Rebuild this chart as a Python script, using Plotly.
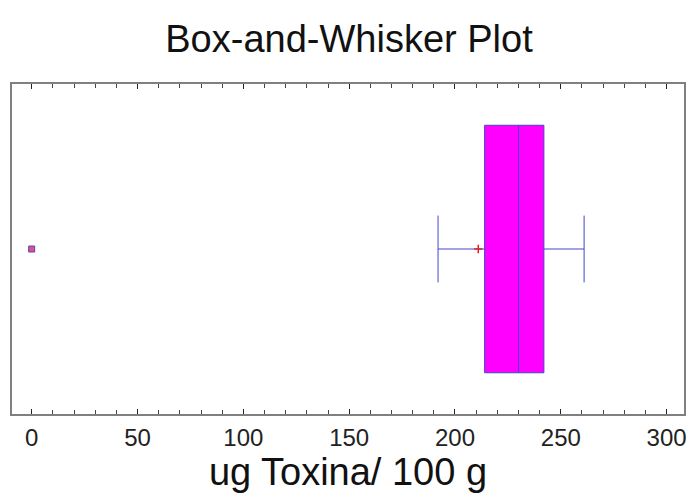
import plotly.graph_objects as go

# Summary statistics (ug Toxina / 100 g)
lower_whisker = [192]
q1 = [214]
median = [230]
q3 = [242]
upper_whisker = [261]
mean_value = [211]
outliers = [0]
box_position = [0.5]

tick_values = [0, 50, 100, 150, 200, 250, 300]
tick_labels = ["0", "50", "100", "150", "200", "250", "300"]

line_col = "#4444CC"

W, H = 689, 502

fig = go.Figure()
fig.add_trace(go.Box(
    orientation="h",
    y=box_position,
    q1=q1, median=median, q3=q3,
    lowerfence=lower_whisker, upperfence=upper_whisker,
    width=0.75,
    whiskerwidth=0.27,
    fillcolor="#FF00FF",
    line=dict(color=line_col, width=1),
    boxpoints=False,
    showlegend=False,
    hoverinfo="skip",
))
fig.add_trace(go.Scatter(
    x=mean_value, y=box_position, mode="markers",
    marker=dict(symbol="cross-thin", size=6, line=dict(color="#E02020", width=1.5)),
    showlegend=False, hoverinfo="skip",
))
fig.add_trace(go.Scatter(
    x=outliers, y=box_position * len(outliers), mode="markers",
    marker=dict(symbol="square", size=6, color="#E0508A", line=dict(color="#5048B0", width=1)),
    showlegend=False, hoverinfo="skip",
))

fig.update_layout(
    width=W, height=H,
    margin=dict(l=12, r=5, t=84, b=88, autoexpand=False),
    paper_bgcolor="white", plot_bgcolor="white",
    font=dict(family="Liberation Sans, Arial, sans-serif", color="#111111"),
    title=dict(text="Box-and-Whisker Plot", x=349/W, xanchor="center",
               y=1 - 39/H, yanchor="middle", yref="container",
               font=dict(size=38, color="#111111")),
    xaxis=dict(
        range=[-9.3, 308.2], automargin=False,
        tickvals=tick_values, ticktext=tick_labels,
        ticks="inside", ticklen=5, tickwidth=1, tickcolor="#222222",
        minor=dict(dtick=10, tick0=0, ticks="inside", ticklen=4, tickwidth=1, tickcolor="#444444"),
        showline=True, linecolor="#808080", linewidth=1.5, mirror="allticks",
        showgrid=False, zeroline=False,
        tickfont=dict(size=24, color="#222222"),
        ticklabelstandoff=1,
        title=dict(text="ug Toxina/ 100 g", font=dict(size=38, color="#111111"), standoff=7),
    ),
    yaxis=dict(
        range=[0, 1], showticklabels=False, ticks="", automargin=False,
        showline=True, linecolor="#808080", linewidth=1.5, mirror=True,
        showgrid=False, zeroline=False,
    ),
)

fig.write_html(
    "out.html",
    config={"displayModeBar": False},
    post_script="document.body.style.margin='0';document.body.style.overflow='hidden';",
)
